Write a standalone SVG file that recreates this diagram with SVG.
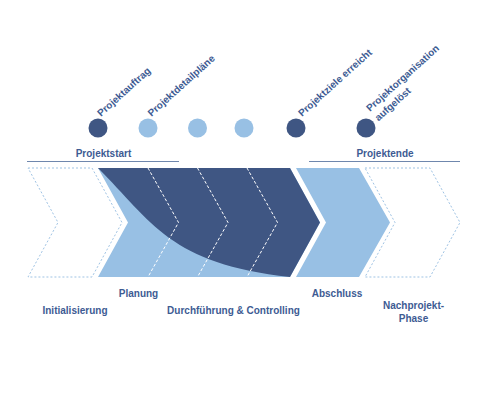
<svg xmlns="http://www.w3.org/2000/svg" width="500" height="400" viewBox="0 0 500 400">
  <style>
    .t { font-family: "Liberation Sans", Arial, sans-serif; font-weight: bold; font-size: 10px; fill: #3d5b93; }
    .m { text-anchor: middle; }
    .dark { fill: #3f5683; }
    .light { fill: #98c0e4; }
    .outline { fill: none; stroke: #9fc3e4; stroke-width: 1; stroke-dasharray: 2 2; }
    .wdash { fill: none; stroke: #ffffff; stroke-width: 1; stroke-dasharray: 3 2; }
    .bracket { stroke: #6f87ad; stroke-width: 1.2; fill: none; }
  </style>
  <rect width="500" height="400" fill="#ffffff"/>

  <!-- milestones -->
  <g id="m-projektauftrag">
    <circle class="dark" cx="98" cy="128" r="9.5"/>
    <text class="t" transform="translate(101,117) rotate(-42)">Projektauftrag</text>
  </g>
  <g id="m-projektdetailplaene">
    <circle class="light" cx="148" cy="128" r="9.5"/>
    <text class="t" transform="translate(151.5,117) rotate(-42)">Projektdetailpläne</text>
  </g>
  <g id="m-dot3">
    <circle class="light" cx="197.5" cy="128" r="9.5"/>
  </g>
  <g id="m-dot4">
    <circle class="light" cx="244" cy="128" r="9.5"/>
  </g>
  <g id="m-projektziele">
    <circle class="dark" cx="296" cy="128" r="9.5"/>
    <text class="t" transform="translate(302,117) rotate(-42)">Projektziele erreicht</text>
  </g>
  <g id="m-projektorganisation">
    <circle class="dark" cx="366" cy="128" r="9.5"/>
    <text class="t" transform="translate(370,112) rotate(-42)"><tspan x="0" y="0">Projektorganisation</tspan><tspan x="0" y="12.8">aufgelöst</tspan></text>
  </g>

  <!-- brackets -->
  <g id="phase-brackets">
    <line class="bracket" x1="27" y1="161.5" x2="179" y2="161.5"/>
    <text class="t m" x="103.5" y="157">Projektstart</text>
    <line class="bracket" x1="309" y1="161.5" x2="460" y2="161.5"/>
    <text class="t m" x="385" y="157">Projektende</text>
  </g>

  <!-- phases -->
  <g id="p-initialisierung">
    <polygon class="outline" points="28,168 92,168 122,222.5 92,277 28,277 58,222.5"/>
    <text class="t m" x="75" y="314">Initialisierung</text>
  </g>
  <g id="p-planung">
    <polygon class="light" points="98,168 290,168 320,222.5 290,277 98,277 128,222.5"/>
    <text class="t m" x="138.5" y="297">Planung</text>
  </g>
  <g id="p-durchfuehrung">
    <path class="dark" d="M98,168 L290,168 L320,222.5 L290,277 C170,264 152,222 98,168 Z"/>
    <polyline class="wdash" points="148,168 178.5,222.5 148,277"/>
    <polyline class="wdash" points="197.5,168 228,222.5 197.5,277"/>
    <polyline class="wdash" points="247,168 277.5,222.5 247,277"/>
    <text class="t m" x="233.5" y="314">Durchführung &amp; Controlling</text>
  </g>
  <g id="p-abschluss">
    <polygon class="light" points="296,168 359,168 390,222.5 359,277 296,277 326,222.5"/>
    <text class="t m" x="337" y="297">Abschluss</text>
  </g>
  <g id="p-nachprojekt">
    <polygon class="outline" points="365,168 430,168 460,222.5 430,277 365,277 395,222.5"/>
    <text class="t m" x="413.5" y="309">Nachprojekt-</text>
    <text class="t m" x="413.5" y="322">Phase</text>
  </g>
</svg>
